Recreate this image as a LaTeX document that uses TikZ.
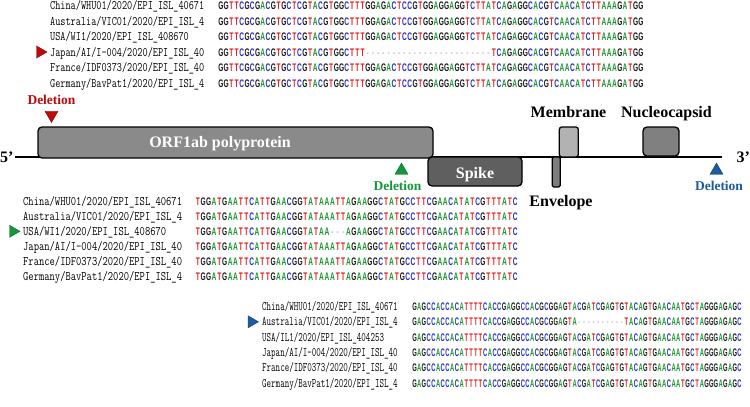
\documentclass[tikz,border=0pt]{standalone}
\usepackage{fontspec}
\setmainfont{Liberation Serif}
\newfontfamily\seqfont{Liberation Sans}
\usetikzlibrary{shapes.geometric}
\definecolor{ntA}{RGB}{25,150,45}
\definecolor{ntC}{RGB}{35,45,200}
\definecolor{ntG}{RGB}{25,25,25}
\definecolor{ntT}{RGB}{230,30,30}
\definecolor{gapc}{RGB}{160,160,160}
\definecolor{orfgray}{RGB}{138,138,138}
\definecolor{spikegray}{RGB}{95,95,95}
\definecolor{memgray}{RGB}{178,178,178}
\definecolor{envgray}{RGB}{125,125,125}
\definecolor{nucgray}{RGB}{128,128,128}
\definecolor{delred}{RGB}{190,10,10}
\definecolor{delgreen}{RGB}{20,150,60}
\definecolor{delblue}{RGB}{30,90,160}
\newlength\cw
\def\sx{1}
\def\colchar#1{\makebox[\cw][c]{\scalebox{\sx}[1]{\ifx A#1\textcolor{ntA}{A}\else\ifx C#1\textcolor{ntC}{C}\else\ifx G#1\textcolor{ntG}{G}\else\ifx T#1\textcolor{ntT}{T}\else\textcolor{gapc}{\mdseries-}\fi\fi\fi\fi}}}
\def\seqloop#1{\ifx\relax#1\else\colchar{#1}\expandafter\seqloop\fi}
\newcommand\nseq[3]{\def\sx{#1}\setlength\cw{#2}\seqloop#3\relax}
\newcommand\lt[2]{\scalebox{#1}[1]{#2}}
\tikzset{
  lab/.style={anchor=base west, inner sep=0pt, font=\fontsize{13}{13}\selectfont\ttfamily},
  sq/.style={anchor=base west, inner sep=0pt, font=\fontsize{11}{11}\selectfont\seqfont\bfseries},
  gbox/.style={draw=black, line width=1.3pt, rounded corners=4pt, inner sep=0pt},
  gtext/.style={inner sep=0pt, anchor=base, font=\fontsize{16}{16}\selectfont\bfseries},
  deltext/.style={inner sep=0pt, anchor=base, font=\fontsize{13.5}{13.5}\selectfont\bfseries},
  tri/.style={regular polygon, regular polygon sides=3, minimum size=15pt, inner sep=0pt, line width=0.4pt},
  mtri/.style={tri, minimum size=14pt, regular polygon rotate=-90},
}
\begin{document}
\begin{tikzpicture}[x=1pt,y=-1pt]
\useasboundingbox (0,0) rectangle (750,407);
% ---------- top alignment ----------
\node[lab] (tl1) at (50,9.5) {\lt{0.767}{China/WHU01/2020/EPI\_ISL\_40671}};
\node[lab] (tl2) at (50,25) {\lt{0.767}{Australia/VIC01/2020/EPI\_ISL\_4}};
\node[lab] (tl3) at (50,40.5) {\lt{0.767}{USA/WI1/2020/EPI\_ISL\_408670}};
\node[lab] (tl4) at (50,56) {\lt{0.767}{Japan/AI/I-004/2020/EPI\_ISL\_40}};
\node[lab] (tl5) at (50,71.5) {\lt{0.767}{France/IDF0373/2020/EPI\_ISL\_40}};
\node[lab] (tl6) at (50,87) {\lt{0.767}{Germany/BavPat1/2020/EPI\_ISL\_4}};
\node[sq] (ts1) at (218,9.5) {\nseq{0.6}{5.25pt}{GGTTCGCGACGTGCTCGTACGTGGCTTTGGAGACTCCGTGGAGGAGGTCTTATCAGAGGCACGTCAACATCTTAAAGATGG}};
\node[sq] (ts2) at (218,25) {\nseq{0.6}{5.25pt}{GGTTCGCGACGTGCTCGTACGTGGCTTTGGAGACTCCGTGGAGGAGGTCTTATCAGAGGCACGTCAACATCTTAAAGATGG}};
\node[sq] (ts3) at (218,40.5) {\nseq{0.6}{5.25pt}{GGTTCGCGACGTGCTCGTACGTGGCTTTGGAGACTCCGTGGAGGAGGTCTTATCAGAGGCACGTCAACATCTTAAAGATGG}};
\node[sq] (ts4) at (218,56) {\nseq{0.6}{5.25pt}{GGTTCGCGACGTGCTCGTACGTGGCTTT------------------------TCAGAGGCACGTCAACATCTTAAAGATGG}};
\node[sq] (ts5) at (218,71.5) {\nseq{0.6}{5.25pt}{GGTTCGCGACGTGCTCGTACGTGGCTTTGGAGACTCCGTGGAGGAGGTCTTATCAGAGGCACGTCAACATCTTAAAGATGG}};
\node[sq] (ts6) at (218,87) {\nseq{0.6}{5.25pt}{GGTTCGCGACGTGCTCGTACGTGGCTTTGGAGACTCCGTGGAGGAGGTCTTATCAGAGGCACGTCAACATCTTAAAGATGG}};
\node[mtri, fill=delred, draw=delred!70!black] (tm) at (40,52) {};
% ---------- genome map ----------
\coordinate (l5) at (15,157);
\coordinate (l3) at (722,157);
\draw[line width=1.5pt] (l5) -- (l3);
\node[gbox, fill=orfgray, minimum width=395pt, minimum height=31pt] (orf) at (235.5,142.5) {};
\node[gbox, fill=spikegray, minimum width=94pt, minimum height=29pt] (spike) at (475,171.5) {};
\node[gbox, fill=envgray, minimum width=8pt, minimum height=30pt, rounded corners=1.5pt] (env) at (556.3,172) {};
\node[gbox, fill=memgray, minimum width=19pt, minimum height=30pt, rounded corners=2.5pt] (mem) at (568.8,142) {};
\node[gbox, fill=nucgray, minimum width=36pt, minimum height=29pt] (nuc) at (661,141.5) {};
\node[gtext, white] (orft) at (220,147.5) {ORF1ab polyprotein};
\node[gtext, white] (spt) at (475,178.5) {Spike};
\node[gtext] (memt) at (568.5,117) {Membrane};
\node[gtext] (nuct) at (666.5,117) {Nucleocapsid};
\node[gtext] (envt) at (561,206.5) {Envelope};
\node[gtext, anchor=base west] (p5) at (0,162) {5’};
\node[gtext, anchor=base west] (p3) at (736.5,162) {3’};
\node[deltext, delred] (d1t) at (51.5,104) {Deletion};
\node[deltext, delgreen] (d2t) at (397.5,190) {Deletion};
\node[deltext, delblue] (d3t) at (719,190) {Deletion};
\node[tri, fill=delred, draw=delred!70!black, regular polygon rotate=180] (d1) at (51.5,115) {};
\node[tri, fill=delgreen, draw=delgreen!70!black] (d2) at (401.5,170.5) {};
\node[tri, fill=delblue, draw=delblue!70!black] (d3) at (716.5,170.5) {};
% ---------- middle alignment ----------
\node[lab] (ml1) at (23,205.2) {\lt{0.791}{China/WHU01/2020/EPI\_ISL\_40671}};
\node[lab] (ml2) at (23,220.35) {\lt{0.791}{Australia/VIC01/2020/EPI\_ISL\_4}};
\node[lab] (ml3) at (23,235.5) {\lt{0.791}{USA/WI1/2020/EPI\_ISL\_408670}};
\node[lab] (ml4) at (23,250.65) {\lt{0.791}{Japan/AI/I-004/2020/EPI\_ISL\_40}};
\node[lab] (ml5) at (23,265.8) {\lt{0.791}{France/IDF0373/2020/EPI\_ISL\_40}};
\node[lab] (ml6) at (23,280.95) {\lt{0.791}{Germany/BavPat1/2020/EPI\_ISL\_4}};
\node[sq] (ms1) at (195,205.2) {\nseq{0.6}{5.38pt}{TGGATGAATTCATTGAACGGTATAAATTAGAAGGCTATGCCTTCGAACATATCGTTTATC}};
\node[sq] (ms2) at (195,220.35) {\nseq{0.6}{5.38pt}{TGGATGAATTCATTGAACGGTATAAATTAGAAGGCTATGCCTTCGAACATATCGTTTATC}};
\node[sq] (ms3) at (195,235.5) {\nseq{0.6}{5.38pt}{TGGATGAATTCATTGAACGGTATAA---AGAAGGCTATGCCTTCGAACATATCGTTTATC}};
\node[sq] (ms4) at (195,250.65) {\nseq{0.6}{5.38pt}{TGGATGAATTCATTGAACGGTATAAATTAGAAGGCTATGCCTTCGAACATATCGTTTATC}};
\node[sq] (ms5) at (195,265.8) {\nseq{0.6}{5.38pt}{TGGATGAATTCATTGAACGGTATAAATTAGAAGGCTATGCCTTCGAACATATCGTTTATC}};
\node[sq] (ms6) at (195,280.95) {\nseq{0.6}{5.38pt}{TGGATGAATTCATTGAACGGTATAAATTAGAAGGCTATGCCTTCGAACATATCGTTTATC}};
\node[mtri, fill=delgreen, draw=delgreen!70!black] (mm) at (13,231.3) {};
% ---------- bottom alignment ----------
\node[lab] (bl1) at (262,310.5) {\lt{0.674}{China/WHU01/2020/EPI\_ISL\_40671}};
\node[lab] (bl2) at (262,325.8) {\lt{0.674}{Australia/VIC01/2020/EPI\_ISL\_4}};
\node[lab] (bl3) at (262,341.1) {\lt{0.674}{USA/IL1/2020/EPI\_ISL\_404253}};
\node[lab] (bl4) at (262,356.4) {\lt{0.674}{Japan/AI/I-004/2020/EPI\_ISL\_40}};
\node[lab] (bl5) at (262,371.7) {\lt{0.674}{France/IDF0373/2020/EPI\_ISL\_40}};
\node[lab] (bl6) at (262,387) {\lt{0.674}{Germany/BavPat1/2020/EPI\_ISL\_4}};
\node[sq] (bs1) at (412,310.5) {\nseq{0.53}{4.71pt}{GAGCCACCACATTTTCACCGAGGCCACGCGGAGTACGATCGAGTGTACAGTGAACAATGCTAGGGAGAGC}};
\node[sq] (bs2) at (412,325.8) {\nseq{0.53}{4.71pt}{GAGCCACCACATTTTCACCGAGGCCACGCGGAGTA----------TACAGTGAACAATGCTAGGGAGAGC}};
\node[sq] (bs3) at (412,341.1) {\nseq{0.53}{4.71pt}{GAGCCACCACATTTTCACCGAGGCCACGCGGAGTACGATCGAGTGTACAGTGAACAATGCTAGGGAGAGC}};
\node[sq] (bs4) at (412,356.4) {\nseq{0.53}{4.71pt}{GAGCCACCACATTTTCACCGAGGCCACGCGGAGTACGATCGAGTGTACAGTGAACAATGCTAGGGAGAGC}};
\node[sq] (bs5) at (412,371.7) {\nseq{0.53}{4.71pt}{GAGCCACCACATTTTCACCGAGGCCACGCGGAGTACGATCGAGTGTACAGTGAACAATGCTAGGGAGAGC}};
\node[sq] (bs6) at (412,387) {\nseq{0.53}{4.71pt}{GAGCCACCACATTTTCACCGAGGCCACGCGGAGTACGATCGAGTGTACAGTGAACAATGCTAGGGAGAGC}};
\node[mtri, fill=delblue, draw=delblue!70!black] (bm) at (251.5,321.8) {};
\end{tikzpicture}
\end{document}
